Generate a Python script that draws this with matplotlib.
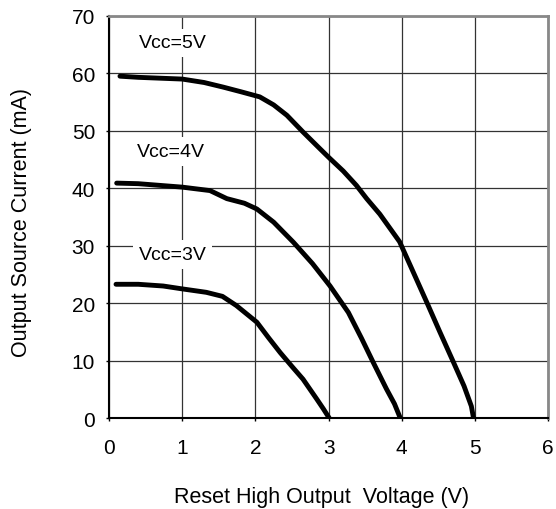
import matplotlib
matplotlib.use("Agg")
import matplotlib.pyplot as plt

plt.rcParams['font.family'] = ['Liberation Sans', 'DejaVu Sans']

# Vcc = 5V
v5_x = [0.15, 0.4, 1.0, 1.3, 1.56, 1.8, 2.06, 2.25, 2.43, 2.65, 2.88, 3.0, 3.2, 3.38, 3.52, 3.70, 3.97, 4.15, 4.34, 4.52, 4.70, 4.85, 4.95, 4.98]
v5_y = [59.5, 59.3, 59.0, 58.4, 57.6, 56.8, 55.9, 54.5, 52.7, 49.8, 46.9, 45.4, 43.0, 40.5, 38.2, 35.5, 30.7, 25.6, 20.2, 15.0, 9.9, 5.6, 2.1, 0.0]

# Vcc = 4V
v4_x = [0.105, 0.4, 0.7, 1.0, 1.38, 1.61, 1.85, 2.02, 2.25, 2.52, 2.78, 3.02, 3.27, 3.45, 3.61, 3.79, 3.90, 3.98]
v4_y = [40.9, 40.8, 40.5, 40.2, 39.6, 38.2, 37.4, 36.4, 34.1, 30.6, 26.9, 23.0, 18.4, 13.9, 9.7, 5.1, 2.5, 0.0]

# Vcc = 3V
v3_x = [0.096, 0.4, 0.74, 1.0, 1.33, 1.55, 1.74, 2.02, 2.18, 2.34, 2.50, 2.65, 2.84, 2.93, 3.01]
v3_y = [23.3, 23.3, 23.0, 22.5, 21.9, 21.2, 19.6, 16.7, 14.0, 11.4, 9.0, 6.8, 3.3, 1.6, 0.0]

labels = ["Vcc=5V", "Vcc=4V", "Vcc=3V"]
label_x = [0.867, 0.851, 0.867]
label_y = [64.5, 45.6, 27.7]

fig = plt.figure(figsize=(5.56, 5.10), dpi=100)
ax = fig.add_axes([0.196, 0.178, 0.79, 0.789])

for xs, ys in [(v5_x, v5_y), (v4_x, v4_y), (v3_x, v3_y)]:
    ax.plot(xs, ys, color='black', linewidth=3.5, solid_capstyle='round',
            solid_joinstyle='round', zorder=3)

for t, x, y in zip(labels, label_x, label_y):
    ax.text(x, y, t, fontsize=14, ha='center', va='baseline', zorder=2,
            bbox=dict(boxstyle='square,pad=0.3', facecolor='white', edgecolor='none'))

ax.set_xlim(0, 6)
ax.set_ylim(0, 70)
ax.set_xticks(range(0, 7))
ax.set_yticks(range(0, 71, 10))
ax.grid(True, color='#333333', linewidth=0.9, zorder=1)
ax.set_axisbelow(True)

for side in ['left', 'bottom']:
    ax.spines[side].set_color('black')
    ax.spines[side].set_linewidth(1.5)
for side in ['top', 'right']:
    ax.spines[side].set_color('#888888')
    ax.spines[side].set_linewidth(2)

ax.tick_params(axis='both', labelsize=15, length=2, width=1)
ax.tick_params(axis='x', pad=12)
ax.tick_params(axis='y', pad=8)

ax.set_xlabel("Reset High Output  Voltage (V)", fontsize=15.5)
ax.set_ylabel("Output Source Current (mA)", fontsize=15.5)
ax.xaxis.set_label_coords(0.484, -0.195)
ax.xaxis.label.set_va('center')
ax.yaxis.set_label_coords(-0.2, 0.49)
ax.yaxis.label.set_va('center')

fig.savefig("out.png", dpi=100)
